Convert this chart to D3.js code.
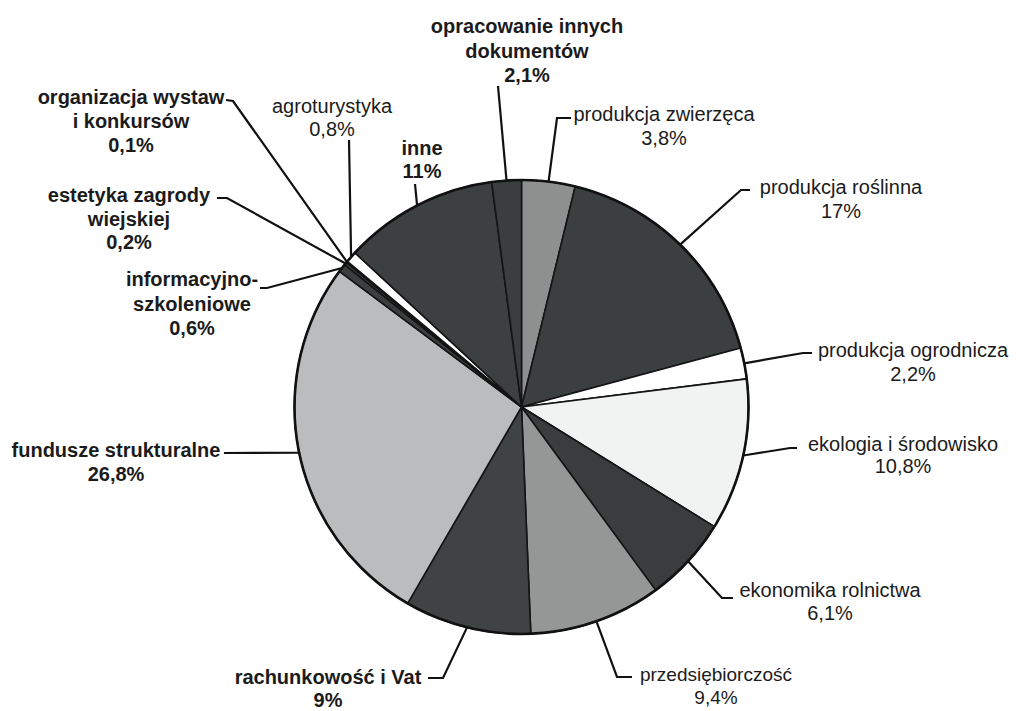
<!DOCTYPE html>
<html>
<head>
<meta charset="utf-8">
<script src="https://cdn.jsdelivr.net/npm/d3@7"></script>
<style>
  html, body { margin: 0; padding: 0; background: #ffffff; }
  svg { display: block; }
  text { font-family: "Liberation Sans", Arial, sans-serif; font-size: 20px; fill: #1b1b1b; }
</style>
</head>
<body>
<svg id="chart" width="1016" height="711"></svg>
<script>
// ---- data ----
const categories = [
  "produkcja zwierzęca", "produkcja roślinna", "produkcja ogrodnicza",
  "ekologia i środowisko", "ekonomika rolnictwa", "przedsiębiorczość",
  "rachunkowość i Vat", "fundusze strukturalne", "informacyjno-szkoleniowe",
  "estetyka zagrody wiejskiej", "organizacja wystaw i konkursów", "agroturystyka",
  "inne", "opracowanie innych dokumentów"
];
const values = [3.8, 17, 2.2, 10.8, 6.1, 9.4, 9, 26.8, 0.6, 0.2, 0.1, 0.8, 11, 2.1];
const valueLabels = ["3,8%", "17%", "2,2%", "10,8%", "6,1%", "9,4%", "9%", "26,8%", "0,6%", "0,2%", "0,1%", "0,8%", "11%", "2,1%"];
const nameLines = [
  ["produkcja zwierzęca"], ["produkcja roślinna"], ["produkcja ogrodnicza"],
  ["ekologia i środowisko"], ["ekonomika rolnictwa"], ["przedsiębiorczość"],
  ["rachunkowość i Vat"], ["fundusze strukturalne"], ["informacyjno-", "szkoleniowe"],
  ["estetyka zagrody", "wiejskiej"], ["organizacja wystaw", "i konkursów"], ["agroturystyka"],
  ["inne"], ["opracowanie innych", "dokumentów"]
];
const boldLabel = [false, false, false, false, false, false, true, true, true, true, true, false, true, true];

// ---- styles / layout ----
const sliceColors = ["#8e9090", "#3c3f40", "#ffffff", "#f1f2f2", "#3a3c3d", "#959797",
  "#404344", "#babcbd", "#3b3e3f", "#3b3e3f", "#3b3e3f", "#ffffff", "#3d4041", "#3b3e3f"];
// label block: centre x, first baseline y, line gap, font size; leader: points after the edge point
const labelLayout = [
  { cx: 664, y: 121, gap: 24, fs: 20, pts: [[557, 118], [571, 118]] },
  { cx: 841, y: 194, gap: 24, fs: 20, pts: [[741, 190], [750, 190]] },
  { cx: 913, y: 357, gap: 24, fs: 20, pts: [[803, 353], [812, 353]] },
  { cx: 903, y: 451, gap: 22, fs: 20, pts: [[790, 448], [797, 448]] },
  { cx: 830, y: 597, gap: 23, fs: 20, pts: [[722, 598], [733, 598]] },
  { cx: 716, y: 681, gap: 23, fs: 19, pts: [[617, 677], [632, 677]] },
  { cx: 328, y: 684, gap: 23, fs: 20, pts: [[443, 678], [428, 678]] },
  { cx: 116, y: 457, gap: 24, fs: 20, pts: [[224, 453]] },
  { cx: 192, y: 286, gap: 24.5, fs: 20, pts: [[267, 288], [260, 288]] },
  { cx: 129, y: 202, gap: 23.5, fs: 20, pts: [[227, 198], [217, 198]] },
  { cx: 131, y: 104, gap: 24, fs: 20, pts: [[233, 101], [226, 100]] },
  { cx: 332, y: 113, gap: 23, fs: 20, pts: [[349, 140]] },
  { cx: 422, y: 155, gap: 23, fs: 20, pts: [[415, 184]] },
  { cx: 527, y: 33, gap: 24.5, fs: 20, pts: [[498, 86]] }
];

const cx = 521.5, cy = 407, R = 227;

const svg = d3.select("#chart");
const g = svg.append("g").attr("transform", `translate(${cx},${cy})`);

const pie = d3.pie().sort(null).value(d => d).startAngle(0).endAngle(2 * Math.PI);
const arcs = pie(values);
const arc = d3.arc().innerRadius(0).outerRadius(R);

g.selectAll("path.slice")
  .data(arcs)
  .join("path")
  .attr("class", "slice")
  .attr("d", arc)
  .attr("fill", (d, i) => sliceColors[i])
  .attr("stroke", "#141414")
  .attr("stroke-width", 1.6)
  .attr("stroke-linejoin", "round");

g.append("circle").attr("r", R).attr("fill", "none").attr("stroke", "#111").attr("stroke-width", 2.6);

// leader lines
const edgePoint = d => {
  const a = (d.startAngle + d.endAngle) / 2;
  return [cx + R * Math.sin(a), cy - R * Math.cos(a)];
};
const lineGen = d3.line();
svg.selectAll("path.leader")
  .data(arcs)
  .join("path")
  .attr("class", "leader")
  .attr("d", (d, i) => lineGen([edgePoint(d), ...labelLayout[i].pts]))
  .attr("fill", "none")
  .attr("stroke", "#111")
  .attr("stroke-width", 2.2);

// labels
arcs.forEach((d, i) => {
  const L = labelLayout[i];
  const lines = nameLines[i].concat([valueLabels[i]]);
  const t = svg.append("text")
    .attr("text-anchor", "middle")
    .style("font-size", L.fs + "px")
    .attr("font-weight", boldLabel[i] ? "bold" : "normal");
  lines.forEach((s, k) => {
    t.append("tspan").attr("x", L.cx).attr("y", L.y + k * L.gap).text(s);
  });
});
</script>
</body>
</html>
